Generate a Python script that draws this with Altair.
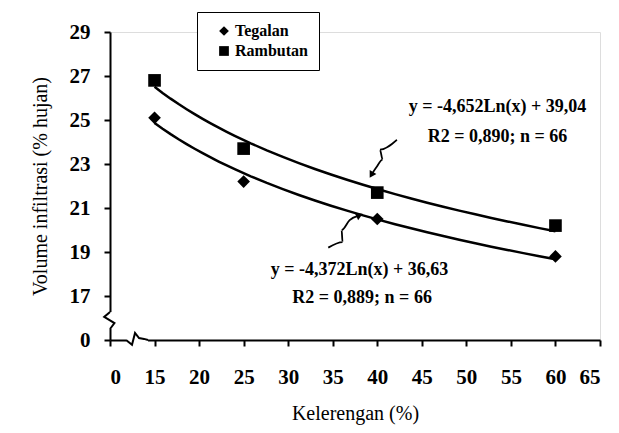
import altair as alt
import pandas as pd

# ---- data ----
slopes = [15, 25, 40, 60]
tegalan = [25.1, 22.2, 20.5, 18.8]
rambutan = [26.8, 23.7, 21.7, 20.2]
series_names = ["Tegalan", "Rambutan"]

x_ticks = [10, 15, 20, 25, 30, 35, 40, 45, 50, 55, 60, 65]
y_ticks = [15, 17, 19, 21, 23, 25, 27, 29]

ann_text = ["y = -4,652Ln(x) + 39,04", "R2 = 0,890; n = 66",
            "y = -4,372Ln(x) + 36,63", "R2 = 0,889; n = 66"]
ann_x = [53.5, 53.5, 38.0, 38.3]
ann_y = [25.6, 24.25, 18.2, 16.9]

# squiggly arrows (data units)
arr_up_x = [42.2, 40.3, 40.6, 39.9, 39.4]
arr_up_y = [24.1, 23.65, 23.2, 22.85, 22.55]
arr_lo_x = [34.5, 36.1, 36.0, 36.9, 37.9]
arr_lo_y = [19.2, 19.45, 20.0, 20.45, 20.65]

# axis-break zigzags (data units)
ybrk_x = [10, 9.35, 10.5, 10]
ybrk_y = [16.27, 16.05, 15.77, 15.5]
xbrk_x = [11.8, 12.47, 12.81, 13.26, 13.82, 14.27]
xbrk_y = [15, 14.78, 15.32, 15.09, 15.05, 15]

FONT = "Liberation Serif"

rows = []
for s, vals in zip(series_names, [tegalan, rambutan]):
    for x, y in zip(slopes, vals):
        rows.append({"series": s, "slope": x, "volume": y})
df = pd.DataFrame(rows)

xs = alt.Scale(domain=[10, 65], nice=False, zero=False)
ys = alt.Scale(domain=[15, 29], nice=False, zero=False)

X = alt.X("slope:Q", scale=xs, axis=alt.Axis(
    values=x_ticks, title="Kelerengan (%)", labelExpr="datum.value == 10 ? '0' : datum.label",
    grid=False, tickSize=6, labelPadding=20, labelFont=FONT, labelFontSize=21,
    labelFontWeight="bold", labelColor="black", domainColor="black", tickColor="black",
    domainWidth=2, tickWidth=2, titleFont=FONT, titleFontSize=20, titleFontWeight="normal",
    titleColor="black", titleX=245, titleY=73, titleBaseline="middle", titleAlign="center"))
Y = alt.Y("volume:Q", scale=ys, axis=alt.Axis(
    values=y_ticks, title="Volume infiltrasi (% hujan)",
    labelExpr="datum.value == 15 ? '0' : datum.label",
    grid=False, tickSize=6, labelPadding=14, labelFont=FONT, labelFontSize=21,
    labelFontWeight="bold", labelColor="black", domainColor="black", tickColor="black",
    domainWidth=2, tickWidth=2, titleFont=FONT, titleFontSize=20, titleFontWeight="normal",
    titleColor="black", titleX=-70, titleY=154, titleAngle=270, titleBaseline="middle",
    titleAlign="center"))

base = alt.Chart(df)

points = base.mark_point(filled=True, color="black", opacity=1, size=160).encode(
    x=X, y=Y,
    shape=alt.Shape("series:N", scale=alt.Scale(domain=series_names, range=["diamond", "square"]),
                    legend=alt.Legend(title=None, orient="none", legendX=87, legendY=-20,
                                      strokeColor="black", fillColor="white", padding=11,
                                      symbolOffset=8, symbolSize=95, symbolFillColor="black",
                                      symbolStrokeColor="black", labelFont=FONT,
                                      labelFontSize=16, labelFontWeight="bold",
                                      labelColor="black", rowPadding=4, labelOffset=3)),
)

trend = base.transform_regression(
    "slope", "volume", method="log", groupby=["series"]
).mark_line(color="black", strokeWidth=2.5).encode(
    x=alt.X("slope:Q", scale=xs), y=alt.Y("volume:Q", scale=ys), detail="series:N")

ann = alt.Chart(pd.DataFrame({"x": ann_x, "y": ann_y, "t": ann_text})).mark_text(
    font=FONT, fontSize=18, fontWeight="bold", color="black", align="center", baseline="middle"
).encode(x=alt.X("x:Q", scale=xs), y=alt.Y("y:Q", scale=ys), text="t:N")

def poly(xv, yv, color="black", width=1.8, interp="monotone"):
    d = pd.DataFrame({"x": xv, "y": yv, "o": list(range(len(xv)))})
    return alt.Chart(d).mark_line(color=color, strokeWidth=width, interpolate=interp).encode(
        x=alt.X("x:Q", scale=xs), y=alt.Y("y:Q", scale=ys), order="o:Q")

def head(x, y, ang):
    d = pd.DataFrame({"x": [x], "y": [y]})
    return alt.Chart(d).mark_point(shape="triangle", filled=True, color="black", opacity=1,
                                   size=60, angle=ang).encode(
        x=alt.X("x:Q", scale=xs), y=alt.Y("y:Q", scale=ys))

# erase parts of the axis lines, then draw the zigzag break marks
erase_y = alt.Chart(pd.DataFrame({"x": [10, 10], "y": [ybrk_y[0], ybrk_y[-1]]})).mark_line(
    color="white", strokeWidth=5).encode(x=alt.X("x:Q", scale=xs), y=alt.Y("y:Q", scale=ys))
erase_x = alt.Chart(pd.DataFrame({"x": [xbrk_x[0], xbrk_x[-1]], "y": [15, 15]})).mark_line(
    color="white", strokeWidth=5).encode(x=alt.X("x:Q", scale=xs), y=alt.Y("y:Q", scale=ys))

chart = alt.layer(
    erase_y, erase_x,
    poly(ybrk_x, ybrk_y, width=2, interp="linear"), poly(xbrk_x, xbrk_y, width=2, interp="linear"),
    trend, points, ann,
    poly(arr_up_x, arr_up_y), head(arr_up_x[-1], arr_up_y[-1], 210),
    poly(arr_lo_x, arr_lo_y), head(arr_lo_x[-1], arr_lo_y[-1], 65),
).properties(
    width=490, height=308,
    autosize=alt.AutoSizeParams(type="none"),
    padding={"left": 102, "top": 24, "right": 10, "bottom": 85},
).configure_view(stroke=None).configure(background="white")

chart.save("out.html", embed_options={"renderer": "svg", "actions": False})
